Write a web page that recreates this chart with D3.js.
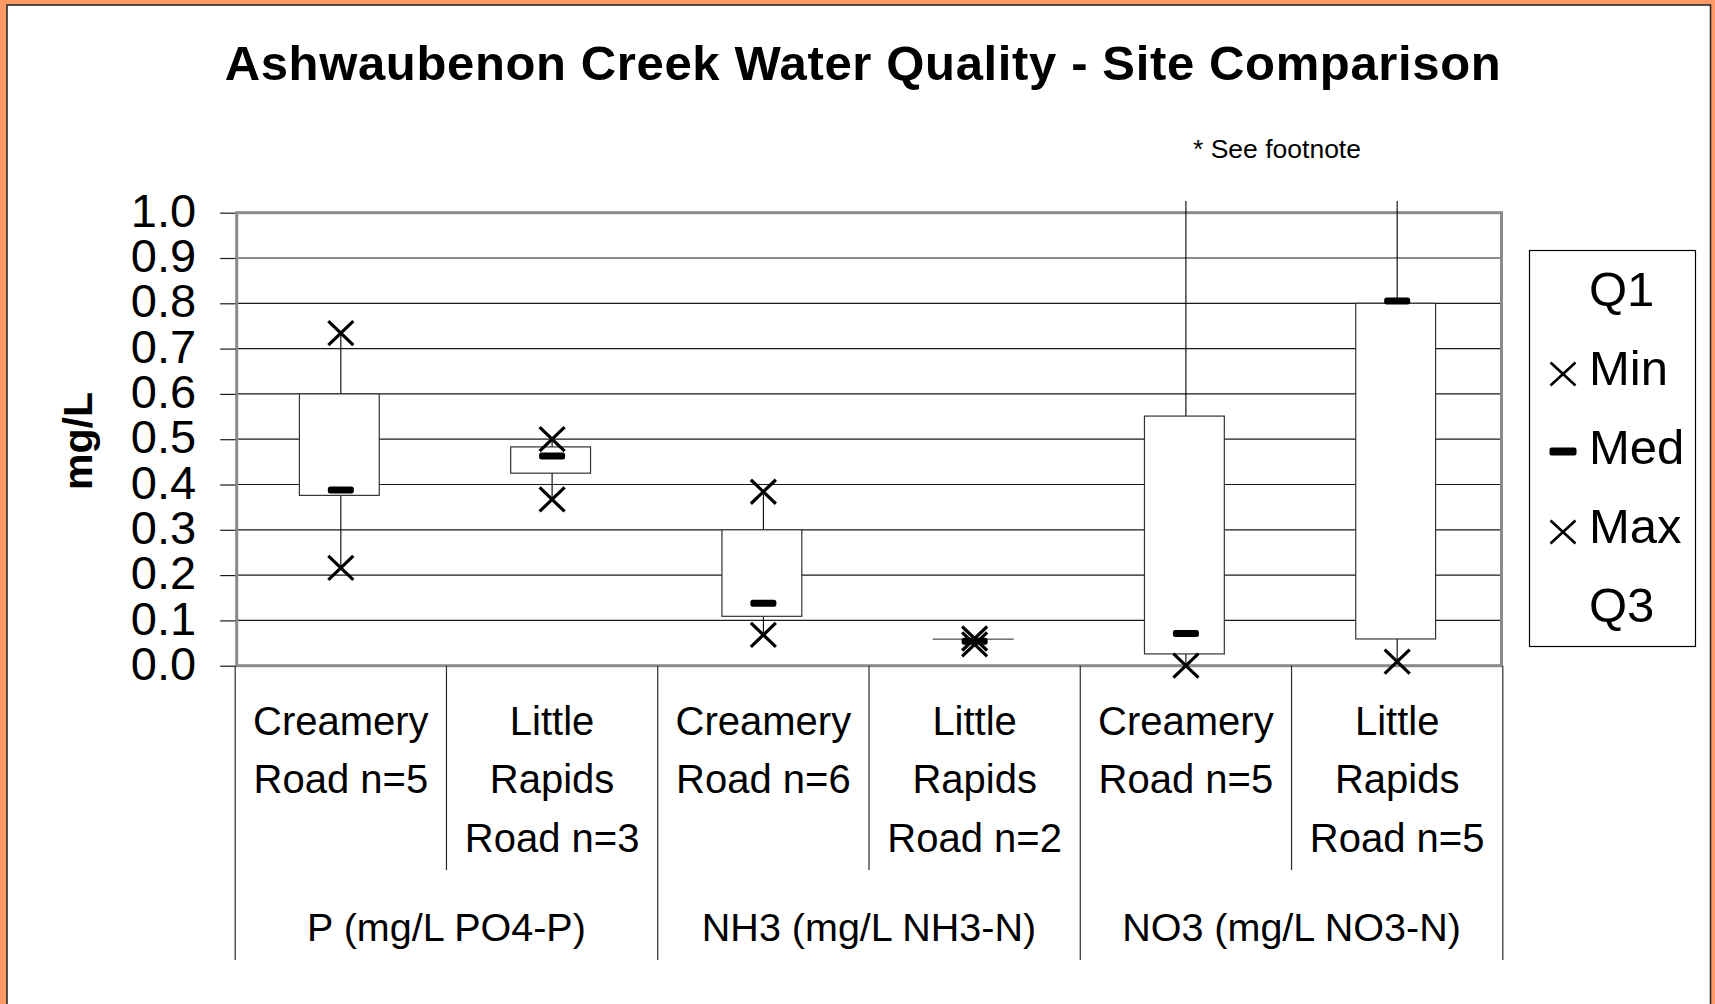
<!DOCTYPE html>
<html>
<head>
<meta charset="utf-8">
<script src="https://cdn.jsdelivr.net/npm/d3@7"></script>
<style>
  html, body { margin: 0; padding: 0; background: #fff; }
  svg { display: block; }
  text { font-family: "Liberation Sans", Arial, Helvetica, sans-serif; fill: #000; }
</style>
</head>
<body>
<svg id="chart" width="1715" height="1004"></svg>
<script>
// ---- Data ----
const categoryLines = [
  ["Creamery", "Road n=5"],
  ["Little", "Rapids", "Road n=3"],
  ["Creamery", "Road n=6"],
  ["Little", "Rapids", "Road n=2"],
  ["Creamery", "Road n=5"],
  ["Little", "Rapids", "Road n=5"]
];
const groups = ["P (mg/L PO4-P)", "NH3 (mg/L NH3-N)", "NO3 (mg/L NO3-N)"];
const q1Vals  = [0.376, 0.425, 0.109, 0.058, 0.026, 0.059];
const minVals = [0.216, 0.367, 0.068, 0.047, 0.000, 0.009];
const medVals = [0.388, 0.463, 0.138, 0.054, 0.071, 0.805];
const maxVals = [0.734, 0.500, 0.384, 0.060, 1.200, 1.200]; // NO3 maxima are off scale (see footnote)
const q3Vals  = [0.600, 0.483, 0.300, 0.059, 0.551, 0.800];
const yTicks = [0, 0.1, 0.2, 0.3, 0.4, 0.5, 0.6, 0.7, 0.8, 0.9, 1.0];
const legendLabels = ["Q1", "Min", "Med", "Max", "Q3"];
const legendMarkers = ["none", "x", "dash", "x", "none"];
const titleText = "Ashwaubenon Creek Water Quality - Site Comparison";
const footnoteText = "* See footnote";
const yLabel = "mg/L";

// ---- Layout ----
const W = 1715, H = 1004;
const plot = { left: 235.2, right: 1502.8, top: 212.7, bottom: 665.7 };
const svg = d3.select("#chart");

// background frame
svg.append("rect").attr("x", 0).attr("y", 0).attr("width", W).attr("height", H).attr("fill", "#FF9966");
svg.append("rect").attr("x", 7).attr("y", 5).attr("width", 1703.5).attr("height", H + 10)
  .attr("fill", "#fff").attr("stroke", "#2b2b2b").attr("stroke-width", 1.6);

const idx = d3.range(categoryLines.length);
const x = d3.scaleBand().domain(idx).range([plot.left, plot.right]).padding(0);
const y = d3.scaleLinear().domain([0, 1]).range([plot.bottom, plot.top]);
const boxW = x.bandwidth() * 0.378;

// gridlines
svg.append("g").selectAll("line").data(yTicks.filter(d => d > 0 && d < 1)).join("line")
  .attr("x1", plot.left).attr("x2", plot.right)
  .attr("y1", d => y(d)).attr("y2", d => y(d))
  .attr("stroke", "#1a1a1a").attr("stroke-width", 1.2);

// plot border (gray)
svg.append("rect")
  .attr("x", plot.left + 1.5).attr("y", plot.top)
  .attr("width", plot.right - plot.left - 2.8).attr("height", plot.bottom - plot.top)
  .attr("fill", "none").attr("stroke", "#8a8a8a").attr("stroke-width", 3);

// y axis ticks + labels
const yAxis = d3.axisLeft(y).tickValues(yTicks).tickSize(15).tickPadding(24).tickFormat(d3.format(".1f"));
const gy = svg.append("g").attr("transform", `translate(${plot.left},0)`).call(yAxis);
gy.select(".domain").remove();
gy.selectAll(".tick line").attr("stroke", "#1a1a1a").attr("stroke-width", 1.2);
gy.selectAll(".tick text")
  .attr("font-family", '"Liberation Sans", Arial, sans-serif')
  .attr("font-size", 47).attr("fill", "#000").attr("dy", "0.29em");

// category separators
svg.append("g").selectAll("line").data(d3.range(categoryLines.length + 1)).join("line")
  .attr("x1", k => plot.left + k * x.bandwidth())
  .attr("x2", k => plot.left + k * x.bandwidth())
  .attr("y1", plot.bottom)
  .attr("y2", k => (k % 2 === 0) ? 960 : 870)
  .attr("stroke", "#2b2b2b").attr("stroke-width", 1.2);

// clip for whiskers (values above the axis run off)
svg.append("clipPath").attr("id", "wclip").append("rect")
  .attr("x", 0).attr("y", 201).attr("width", W).attr("height", H);

const cx = i => x(i) + x.bandwidth() / 2;

// whiskers
svg.append("g").attr("clip-path", "url(#wclip)").selectAll("line").data(idx).join("line")
  .attr("x1", cx).attr("x2", cx)
  .attr("y1", i => y(minVals[i])).attr("y2", i => y(maxVals[i]))
  .attr("stroke", "#000").attr("stroke-width", 1.1);

// boxes
svg.append("g").selectAll("rect").data(idx).join("rect")
  .attr("x", i => cx(i) - boxW / 2 - 1.5).attr("width", boxW)
  .attr("y", i => y(q3Vals[i])).attr("height", i => Math.max(0, y(q1Vals[i]) - y(q3Vals[i])))
  .attr("fill", "#fff").attr("stroke", i => (y(q1Vals[i]) - y(q3Vals[i]) < 2) ? "#777" : "#333")
  .attr("stroke-width", 1.2);

// max markers clipped like whiskers; min markers
const xPath = (s, h) => `M${-s},${-h}L${s},${h}M${-s},${h}L${s},${-h}`;
svg.append("g").attr("clip-path", "url(#wclip)").selectAll("path").data(idx).join("path")
  .attr("d", xPath(12.5, 12))
  .attr("transform", i => `translate(${cx(i)},${y(maxVals[i])})`)
  .attr("fill", "none").attr("stroke", "#000").attr("stroke-width", 3.2);
svg.append("g").selectAll("path").data(idx).join("path")
  .attr("d", xPath(12.5, 12))
  .attr("transform", i => `translate(${cx(i)},${y(minVals[i])})`)
  .attr("fill", "none").attr("stroke", "#000").attr("stroke-width", 3.2);

// medians
svg.append("g").selectAll("rect").data(idx).join("rect")
  .attr("x", i => cx(i) - 13).attr("width", 26)
  .attr("y", i => y(medVals[i]) - 3.5).attr("height", 7)
  .attr("rx", 2.5).attr("fill", "#000");

// category labels
const lineBase = [735, 793.3, 851.6];
const cl = svg.append("g").selectAll("text").data(idx).join("text")
  .attr("text-anchor", "middle").attr("font-size", 40);
cl.each(function(i) {
  d3.select(this).selectAll("tspan").data(categoryLines[i]).join("tspan")
    .attr("x", cx(i)).attr("y", (d, j) => lineBase[j]).text(d => d);
});

// group labels
svg.append("g").selectAll("text").data(groups).join("text")
  .attr("x", (d, g) => plot.left + (g * 2 + 1) * x.bandwidth())
  .attr("y", 941).attr("text-anchor", "middle").attr("font-size", 39.5)
  .text(d => d);

// title
svg.append("text").attr("x", 862.7).attr("y", 80).attr("text-anchor", "middle")
  .attr("font-size", 49).attr("font-weight", "bold")
  .attr("textLength", 1276).attr("lengthAdjust", "spacing")
  .text(titleText);

// footnote
svg.append("text").attr("x", 1193).attr("y", 158.3).attr("font-size", 26.5).text(footnoteText);

// y label
svg.append("text").attr("transform", "translate(92,441) rotate(-90)")
  .attr("text-anchor", "middle").attr("font-size", 41).attr("font-weight", "bold")
  .text(yLabel);

// legend
const lg = svg.append("g");
lg.append("rect").attr("x", 1529.5).attr("y", 250.5).attr("width", 166).attr("height", 396)
  .attr("fill", "#fff").attr("stroke", "#000").attr("stroke-width", 1.2);
legendLabels.forEach((lab, i) => {
  const base = 306 + i * 79;
  lg.append("text").attr("x", 1589).attr("y", base).attr("font-size", 49).text(lab);
  if (legendMarkers[i] === "x") {
    lg.append("path").attr("d", xPath(12.5, 11.5))
      .attr("transform", `translate(1563,${base - 11})`)
      .attr("fill", "none").attr("stroke", "#000").attr("stroke-width", 2.6);
  } else if (legendMarkers[i] === "dash") {
    lg.append("rect").attr("x", 1563 - 13.5).attr("y", base - 16.5).attr("width", 27).attr("height", 8)
      .attr("rx", 2).attr("fill", "#000");
  }
});
</script>
</body>
</html>
